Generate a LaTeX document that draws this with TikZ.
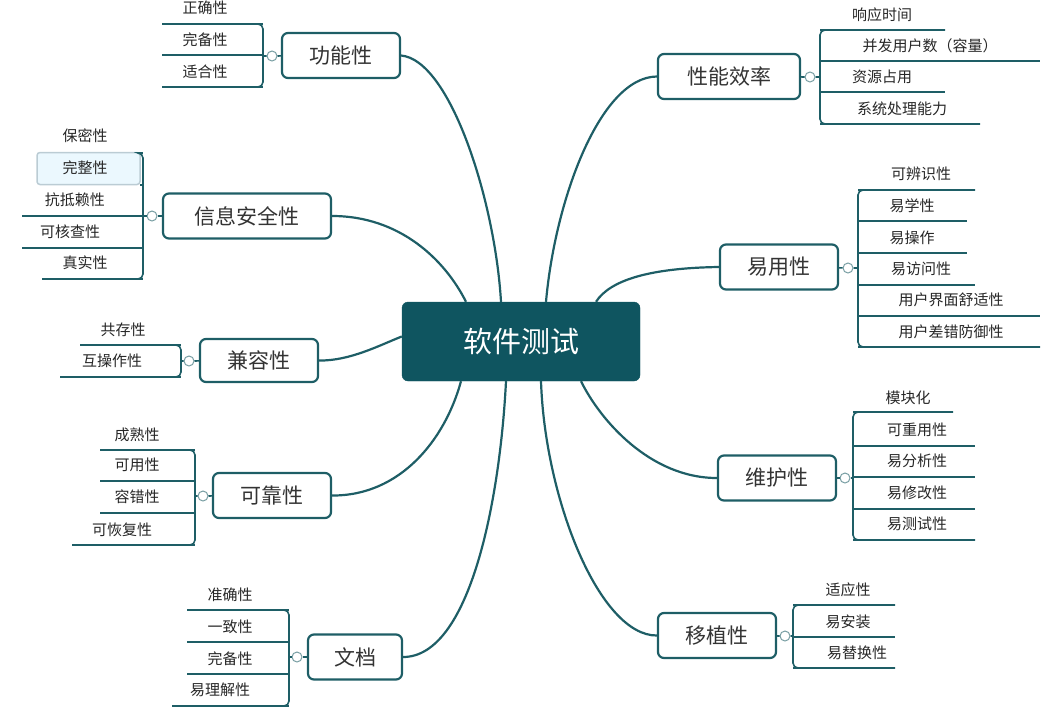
\documentclass[tikz,border=0pt]{standalone}
\usepackage{fontspec}
\setmainfont{Noto Sans CJK SC}
\definecolor{tl}{HTML}{1E5E66}
\definecolor{ctr}{HTML}{0F5560}
\tikzset{
  br/.style={draw=tl,line width=2.2pt,rounded corners=6pt,minimum height=45pt,font=\fontsize{21}{21}\selectfont,text=black!80},
  ch/.style={font=\fontsize{15}{15}\selectfont,text=black!85,inner sep=0pt},
  ln/.style={draw=tl,line width=1.6pt},
  cv/.style={draw=tl,line width=2.2pt},
  tog/.style={circle,draw=tl!60,line width=1pt,minimum size=10pt,inner sep=0pt,fill=white},
}
% \kid{name}{text}{cx}{cy}{x1}{x2}{uly}
\newcommand{\kid}[7]{\node[ch] (#1) at (#3,#4) {#2};\draw[ln] (#5,#7) -- (#6,#7);}
\newcommand{\brk}[5]{\draw[ln,rounded corners=5pt] (#1,#3) -- (#2,#3) -- (#2,#4) -- (#5,#4);}
\begin{document}
\begin{tikzpicture}[x=1pt,y=-1pt]
\useasboundingbox (0,0) rectangle (1045,707);
% center
\node[fill=ctr,draw=ctr,rounded corners=6pt,minimum width=238pt,minimum height=79pt,text=white,font=\fontsize{29}{29}\selectfont] (c) at (521,341.5) {软件测试};
% branch boxes
\node[br,minimum width=118pt] (gn) at (341,55.5) {功能性};
\node[br,minimum width=168pt] (xx) at (247,216) {信息安全性};
\node[br,minimum width=118pt,minimum height=43pt] (jr) at (259,360.5) {兼容性};
\node[br,minimum width=118pt] (kk) at (272,495.5) {可靠性};
\node[br,minimum width=94pt] (wd) at (355,657) {文档};
\node[br,minimum width=142pt] (xn) at (729,76.5) {性能效率};
\node[br,minimum width=118pt] (yy) at (779,267) {易用性};
\node[br,minimum width=118pt] (wh) at (777,478) {维护性};
\node[br,minimum width=118pt] (yz) at (717,635.5) {移植性};
% curves
\draw[cv] (gn.east) .. controls (450,60) and (495,200) .. ([xshift=-20pt]c.north);
\draw[cv] (xx.east) .. controls (400,216) and (445,260) .. ([xshift=-55pt]c.north);
\draw[cv] (jr.east) .. controls (350,361) and (380,345) .. ([yshift=5pt]c.west);
\draw[cv] (kk.east) .. controls (400,496) and (445,440) .. ([xshift=-60pt]c.south);
\draw[cv] (wd.east) .. controls (470,657) and (500,500) .. ([xshift=-15pt]c.south);
\draw[cv] (xn.west) .. controls (600,77) and (555,200) .. ([xshift=25pt]c.north);
\draw[cv] (yy.west) .. controls (650,268) and (610,280) .. ([xshift=75pt]c.north);
\draw[cv] (wh.west) .. controls (650,478) and (600,420) .. ([xshift=60pt]c.south);
\draw[cv] (yz.west) .. controls (600,636) and (545,500) .. ([xshift=20pt]c.south);
% 功能性
\node[tog] (t1) at (272,56) {}; \draw[ln] (263,56) -- (t1) -- (gn);
\brk{162}{263}{24}{87}{162}
\kid{g1}{正确性}{205}{8}{162}{263}{24}
\kid{g2}{完备性}{205}{40}{162}{263}{55}
\kid{g3}{适合性}{205}{72}{162}{263}{87}
% 信息安全性
\node[fill=cyan!8!white,draw=cyan!25!gray!50,rounded corners=3pt,line width=1.5pt,minimum width=103pt,minimum height=32pt] (hl) at (88.5,168.5) {};
\node[tog] (t2) at (152,216) {}; \draw[ln] (143,216) -- (t2) -- (xx);
\brk{140}{143}{153}{279}{42}
\kid{x1}{保密性}{85}{136}{140}{143}{153}
\kid{x2}{完整性}{85}{168}{140}{143}{185}
\kid{x3}{抗抵赖性}{75}{200}{22}{143}{216}
\kid{x4}{可核查性}{70}{232}{22}{143}{248}
\kid{x5}{真实性}{85}{263}{42}{143}{279}
% 兼容性
\node[tog] (t3) at (189,361) {}; \draw[ln] (181,361) -- (t3) -- (jr);
\brk{80}{181}{345}{377}{60}
\kid{j1}{共存性}{123}{330}{80}{181}{345}
\kid{j2}{互操作性}{112}{361}{60}{181}{377}
% 可靠性
\node[tog] (t4) at (203,496) {}; \draw[ln] (195,496) -- (t4) -- (kk);
\brk{100}{195}{450}{545}{72}
\kid{k1}{成熟性}{137}{435}{100}{195}{450}
\kid{k2}{可用性}{137}{465}{100}{195}{481}
\kid{k3}{容错性}{137}{497}{100}{195}{513}
\kid{k4}{可恢复性}{122}{530}{72}{195}{545}
% 文档
\node[tog] (t5) at (297,657) {}; \draw[ln] (289,657) -- (t5) -- (wd);
\brk{187}{289}{610}{706}{172}
\kid{w1}{准确性}{230}{595}{187}{289}{610}
\kid{w2}{一致性}{230}{627}{187}{289}{642}
\kid{w3}{完备性}{230}{659}{187}{289}{674}
\kid{w4}{易理解性}{220}{690}{172}{289}{706}
% 性能效率
\node[tog] (t6) at (810,77) {}; \draw[ln] (xn) -- (t6) -- (820,77);
\brk{945}{820}{30}{124}{980}
\kid{n1}{响应时间}{882}{15}{820}{945}{30}
\kid{n2}{并发用户数（容量）}{930}{46}{820}{1040}{61}
\kid{n3}{资源占用}{882}{77}{820}{945}{92}
\kid{n4}{系统处理能力}{902}{109}{820}{980}{124}
% 易用性
\node[tog] (t7) at (848,268) {}; \draw[ln] (yy) -- (t7) -- (858,268);
\brk{975}{858}{190}{347}{1040}
\kid{y1}{可辨识性}{921}{174}{858}{975}{190}
\kid{y2}{易学性}{912}{206}{858}{967}{221}
\kid{y3}{易操作}{912}{238}{858}{967}{253}
\kid{y4}{易访问性}{921}{269}{858}{975}{285}
\kid{y5}{用户界面舒适性}{951}{300}{858}{1040}{316}
\kid{y6}{用户差错防御性}{951}{332}{858}{1040}{347}
% 维护性
\node[tog] (t8) at (845,478) {}; \draw[ln] (wh) -- (t8) -- (853,478);
\brk{953}{853}{412}{540}{975}
\kid{m1}{模块化}{908}{398}{853}{953}{412}
\kid{m2}{可重用性}{917}{430}{853}{975}{446}
\kid{m3}{易分析性}{917}{461}{853}{975}{477}
\kid{m4}{易修改性}{917}{493}{853}{975}{509}
\kid{m5}{易测试性}{917}{524}{853}{975}{540}
% 移植性
\node[tog] (t9) at (785,636) {}; \draw[ln] (yz) -- (t9) -- (793,636);
\brk{895}{793}{605}{668}{895}
\kid{z1}{适应性}{848}{590}{793}{895}{605}
\kid{z2}{易安装}{848}{622}{793}{895}{637}
\kid{z3}{易替换性}{857}{653}{793}{895}{668}
\end{tikzpicture}
\end{document}
